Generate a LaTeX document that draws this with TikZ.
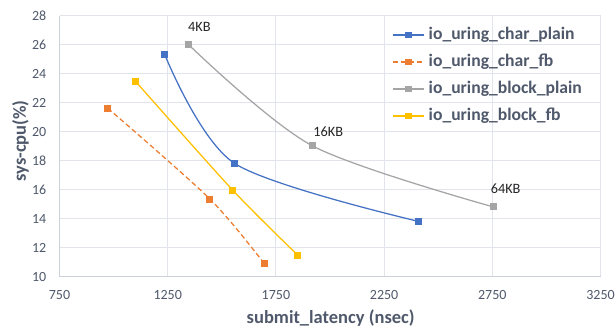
\documentclass[tikz,border=0pt]{standalone}
\usepackage{fontspec}
\setmainfont{Carlito}
\definecolor{sblue}{HTML}{4472C4}
\definecolor{sorange}{HTML}{ED7D31}
\definecolor{sgray}{HTML}{A5A5A5}
\definecolor{syellow}{HTML}{FFC000}
\definecolor{gridc}{HTML}{E1E4EA}
\definecolor{axisc}{HTML}{CDD1D9}
\definecolor{labc}{HTML}{4F596B}
\definecolor{datc}{HTML}{262626}
\begin{document}
\begin{tikzpicture}[x=1pt,y=1pt,
  gridline/.style={gridc, line width=1pt},
  axisline/.style={axisc, line width=1.2pt},
  ticklab/.style={labc, font=\fontsize{14}{15}\selectfont, inner sep=0pt},
  axtitle/.style={labc, font=\fontsize{18.5}{19}\selectfont\bfseries, inner sep=0pt},
  datalab/.style={datc, font=\fontsize{14.3}{15}\selectfont, inner sep=0pt},
  legtext/.style={labc, font=\fontsize{17.6}{18}\selectfont\bfseries, inner sep=0pt, anchor=west},
  series/.style={line width=1.25pt, line join=round},
  marker/.style={rectangle, minimum size=7pt, inner sep=0pt, draw=none, fill=#1},
  legmarker/.style={rectangle, minimum size=6.5pt, inner sep=0pt, draw=none, fill=#1},
  fbdash/.style={dash pattern=on 5pt off 3pt}]
\useasboundingbox (0,0) rectangle (615,330);
\fill[white] (0,0) rectangle (615,330);

% plot area in data coordinates
\begin{scope}[x=0.2164pt, y=14.48pt, shift={(-102.8pt,-91.44pt)}]
  \foreach \v in {12,14,...,28} \draw[gridline] (750,\v) -- (3250,\v);
  \foreach \u in {1250,1750,...,3250} \draw[gridline] (\u,10) -- (\u,28);
  \draw[axisline] (750,10) -- (3250,10);
  \draw[axisline] (750,10) -- (750,28);

  \foreach \v in {10,12,...,28}
    \node[ticklab, anchor=east] (yt\v) at ([xshift=-13pt]750,\v) {\v};
  \foreach \u in {750,1250,...,3250}
    \node[ticklab] (xt\u) at ([yshift=-18pt]\u,10) {\u};

  % data points
  \coordinate (cp1) at (1236,25.35);
  \coordinate (cp2) at (1558,17.83);
  \coordinate (cp3) at (2408,13.82);
  \coordinate (cf1) at (973,21.63);
  \coordinate (cf2) at (1445,15.36);
  \coordinate (cf3) at (1696,10.90);
  \coordinate (bp1) at (1348,26.00);
  \coordinate (bp2) at (1918,19.04);
  \coordinate (bp3) at (2756,14.81);
  \coordinate (bf1) at (1100,23.51);
  \coordinate (bf2) at (1550,15.98);
  \coordinate (bf3) at (1852,11.47);
\end{scope}

% series lines
\draw[series, sgray] plot[smooth] coordinates {(bp1) (bp2) (bp3)};
\draw[series, sblue] plot[smooth] coordinates {(cp1) (cp2) (cp3)};
\draw[series, sorange, fbdash] plot[smooth] coordinates {(cf1) (cf2) (cf3)};
\draw[series, syellow] plot[smooth] coordinates {(bf1) (bf2) (bf3)};

% series markers
\foreach \p in {1,2,3} {
  \node[marker=sgray] (mbp\p) at (bp\p) {};
  \node[marker=sblue] (mcp\p) at (cp\p) {};
  \node[marker=sorange] (mcf\p) at (cf\p) {};
  \node[marker=syellow] (mbf\p) at (bf\p) {};
}

% block size labels
\node[datalab, anchor=west] (l4) at ([xshift=-1pt, yshift=17.7pt]bp1) {4KB};
\node[datalab, anchor=west] (l16) at ([xshift=1pt, yshift=14pt]bp2) {16KB};
\node[datalab, anchor=west] (l64) at ([xshift=-3pt, yshift=18pt]bp3) {64KB};

% axis titles
\node[axtitle] (xtitle) at (330.7,11.7) {submit\_latency (nsec)};
\node[axtitle, rotate=90] (ytitle) at (20.5,189) {sys-cpu(\%)};

% legend
\foreach \name/\col/\yy/\st [count=\i] in {%
    io\_uring\_char\_plain/sblue/295/solid,
    io\_uring\_char\_fb/sorange/268/fbdash,
    io\_uring\_block\_plain/sgray/241/solid,
    io\_uring\_block\_fb/syellow/214/solid} {
  \coordinate (la\i) at (392.7,\yy);
  \coordinate (lb\i) at (424.3,\yy);
  \draw[series, \col, \st] (la\i) -- (lb\i);
  \node[legmarker=\col] (lm\i) at (408.5,\yy) {};
  \node[legtext] (lt\i) at (428.5,\yy) {\name};
}
\end{tikzpicture}
\end{document}
